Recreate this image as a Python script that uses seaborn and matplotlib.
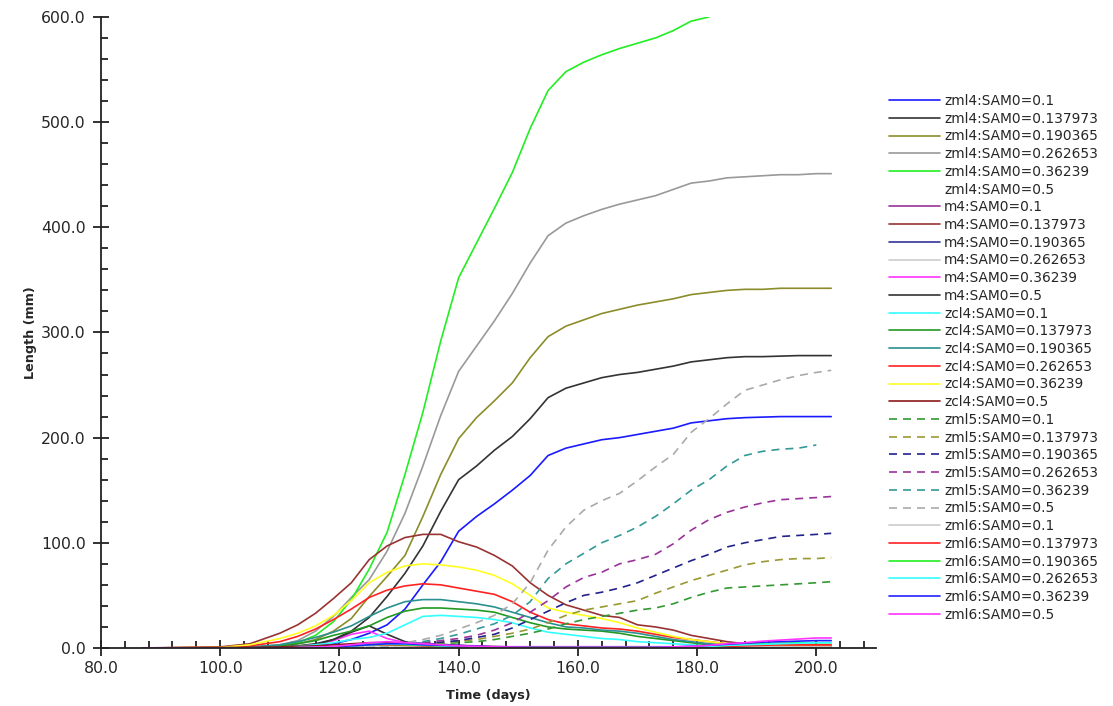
import numpy as np
import seaborn as sns
import matplotlib.pyplot as plt
from matplotlib.ticker import MultipleLocator, FormatStrFormatter

nan = np.nan

# time grid (days)
days = [87, 100, 105, 110, 113, 116, 119, 122, 125, 128, 131, 134, 137, 140, 143, 146, 149, 152, 155,
        158, 161, 164, 167, 170, 173, 176, 179, 182, 185, 188, 191, 194, 197, 200, 202.5]

# zml4
zml4_0100 = [0, 0, 0, 0.5, 1, 2, 4, 8, 14, 22, 37, 60, 82, 111, 125, 137, 150, 164, 183,
             190, 194, 198, 200, 203, 206, 209, 214, 216, 218, 219, 219.5, 220, 220, 220, 220]
zml4_0138 = [0, 0, 0.5, 1, 2, 4, 8, 16, 29, 49, 71, 97, 130, 160, 173, 188, 201, 218, 238,
             247, 252, 257, 260, 262, 265, 268, 272, 274, 276, 277, 277, 277.5, 278, 278, 278]
zml4_0190 = [0, 0, 0.5, 2, 4, 8, 16, 28, 49, 68, 88, 125, 165, 199, 219, 235, 252, 276, 296,
             306, 312, 318, 322, 326, 329, 332, 336, 338, 340, 341, 341, 342, 342, 342, 342]
zml4_0263 = [0, 0, 0.5, 3, 7, 16, 30, 48, 65, 92, 128, 173, 221, 263, 287, 311, 337, 366, 392,
             404, 411, 417, 422, 426, 430, 436, 442, 444, 447, 448, 449, 450, 450, 451, 451]
zml4_0362 = [0, 0, 0.5, 2, 5, 12, 25, 46, 75, 110, 165, 224, 292, 352, 385, 418, 452, 494, 530,
             548, 557, 564, 570, 575, 580, 587, 596, 600, nan, nan, nan, nan, nan, nan, nan]
zml4_0500 = [nan] * len(days)

# m4
m4_0100 = [0, 0, 0, 0, 0.2, 0.5, 1, 2, 3, 4, 4, 3.5, 3, 2.5, 2, 1.5, 1, 1, 0.8,
           0.6, 0.5, 0.5, 0.5, 0.5, 0.5, 0.5, 0.5, 0.5, 0.5, 0.5, 0.5, 0.5, 0.5, 0.5, 0.5]
m4_0138 = [0, 1, 4, 14, 22, 33, 47, 62, 84, 97, 105, 108, 108, 101, 96, 88, 78, 62, 50,
           41, 36, 31, 29, 22, 20, 17, 12, 9, 6, 4, 3, 2.5, 2, 2, 2]
m4_0190 = [0, 0, 0, 0, 0.3, 0.8, 1.5, 2.5, 4, 5, 5, 4.5, 3.5, 2.5, 1.5, 1, 0.8, 0.5, 0.5,
           0.5, 0.5, 0.5, 0.5, 0.5, 0.5, 0.5, 0.5, 0.5, 0.5, 0.5, 0.5, 0.5, 0.5, 0.5, 0.5]
m4_0263 = [0, 0, 0, 0, 0.5, 1, 2, 3, 4, 4, 3, 2, 1.5, 1, 0.8, 0.5, 0.5, 0.5, 0.5,
           0.5, 0.5, 0.5, 0.5, 0.5, 0.5, 0.5, 0.5, 0.5, 0.5, 0.5, 0.5, 0.5, 0.5, 0.5, 0.5]
m4_0362 = [0, 0, 0, 0.5, 1.5, 3, 7, 13, 16, 9, 5, 2, 1.5, 1.2, 1.2, 1.2, 1.2, 1.2, 1.2,
           1.2, 1.2, 1.2, 1.2, 1.2, 1.2, 1.2, 1.2, 1.2, 1.2, 1.2, 1.2, 1.2, 1.2, 1.2, 1.2]
m4_0500 = [0, 0, 0, 0.5, 1.5, 3, 8, 15, 21, 13, 6, 2.5, 1, 0.5, 0.5, 0.5, 0.5, 0.5, 0.5,
           0.5, 0.5, 0.5, 0.5, 0.5, 0.5, 0.5, 0.5, 0.5, 0.5, 0.5, 0.5, 0.5, 0.5, 0.5, 0.5]

# zcl4
zcl4_0100 = [0, 0, 0, 0.5, 1.5, 3, 5, 8, 10, 14, 22, 30, 31, 30, 29, 27, 24, 19, 15,
             13, 11, 9, 8, 6, 5, 4, 3, 2, 1.5, 1, 1, 1, 1, 1, 1]
zcl4_0138 = [0, 0, 0.5, 2, 4, 7, 12, 16, 21, 29, 35, 38, 38, 37, 36, 34, 29, 24, 20,
             18, 17, 16, 14, 11, 9, 7, 5, 3, 2, 1.5, 1, 1, 1, 1, 1]
zcl4_0190 = [0, 0, 1, 3, 6, 10, 15, 21, 30, 38, 44, 46, 46, 44, 42, 39, 34, 29, 24,
             20, 19, 17, 16, 14, 11, 8, 6, 4, 3, 2, 1.5, 1, 1, 1, 1]
zcl4_0263 = [0, 0.5, 2, 6, 11, 18, 27, 37, 48, 55, 59, 61, 60, 57, 54, 51, 44, 34, 27,
             23, 21, 19, 18, 16, 13, 10, 8, 6, 4, 3, 2, 1.5, 1.5, 1.5, 1.5]
zcl4_0362 = [0, 0.5, 3, 9, 14, 21, 31, 45, 62, 72, 78, 80, 79, 77, 74, 69, 61, 50, 38,
             34, 31, 28, 24, 19, 15, 11, 8, 6, 4, 3, 2, 1.5, 1.5, 1.5, 1.5]
zcl4_0500 = [0, 0.5, 0.5, 1, 1.5, 2, 3, 4, 5, 5, 4, 3, 2, 1.5, 1, 1, 1, 1, 1,
             1, 1, 1, 1, 1, 1, 1, 1, 1, 1, 1, 1, 1, 1, 1, 1]

# zml5 (dashed)
zml5_0100 = [0, 0, 0, 0, 0, 0, 0, 0, 0.5, 1, 2, 3, 4, 5, 6, 8, 11, 14, 18,
             23, 27, 30, 33, 36, 38, 42, 48, 53, 57, 58, 59, 60, 61, 62, 63]
zml5_0138 = [0, 0, 0, 0, 0, 0, 0, 0, 0.5, 1, 2, 3.5, 5, 6.5, 8, 11, 14, 18, 24,
             31, 36, 39, 42, 45, 52, 58, 64, 69, 74, 79, 82, 84, 85, 85, 86]
zml5_0190 = [0, 0, 0, 0, 0, 0, 0, 0, 0.5, 1, 2.5, 4, 5.5, 7, 10, 13, 19, 27, 35,
             43, 50, 53, 57, 62, 69, 76, 83, 89, 96, 100, 103, 106, 107, 108, 109]
zml5_0263 = [0, 0, 0, 0, 0, 0, 0, 0, 0.5, 1.5, 3, 5, 7, 9, 12, 17, 24, 34, 45,
             58, 67, 72, 80, 84, 89, 99, 112, 122, 129, 134, 138, 141, 142, 143, 144]
zml5_0362 = [0, 0, 0, 0, 0, 0, 0, 0, 1, 2, 4, 6, 9, 13, 18, 23, 31, 44, 66,
             80, 90, 100, 107, 115, 125, 137, 150, 160, 173, 183, 187, 189, 190, 193, nan]
zml5_0500 = [0, 0, 0, 0, 0, 0, 0, 0, 1, 3, 5, 8, 12, 18, 24, 31, 42, 62, 93,
             115, 131, 140, 147, 159, 172, 184, 205, 218, 232, 245, 250, 255, 259, 262, 264]

# zml6
zml6_0100 = [0, 0, 0, 0, 0.2, 0.5, 1, 1.5, 2, 2, 1.5, 1, 0.8, 0.5, 0.5, 0.5, 0.5, 0.5, 0.5,
             0.5, 0.5, 0.5, 0.5, 0.5, 0.5, 0.5, 0.5, 0.8, 1, 1, 1, 1, 1, 1, 1]
zml6_0138 = [0, 0, 0, 0, 0.2, 0.5, 1, 2, 3, 3, 2.5, 2, 1.5, 1, 0.8, 0.5, 0.5, 0.5, 0.5,
             0.5, 0.5, 0.5, 0.5, 0.5, 0.5, 0.5, 0.5, 1, 1.5, 2, 2.5, 3, 3, 3, 3]
zml6_0190 = [0, 0, 0, 0, 0.2, 0.5, 1, 2, 3, 3.5, 3, 2.5, 2, 1.5, 1, 0.8, 0.5, 0.5, 0.5,
             0.5, 0.5, 0.5, 0.5, 0.5, 0.5, 0.8, 1, 1.5, 2.5, 3.5, 4, 4.5, 5, 5, 5]
zml6_0263 = [0, 0, 0, 0, 0.2, 0.5, 1, 2, 3, 4, 3.5, 3, 2, 1.5, 1, 0.8, 0.5, 0.5, 0.5,
             0.5, 0.5, 0.5, 0.5, 0.5, 0.5, 0.8, 1, 1.5, 2.5, 3, 3.5, 4, 4.5, 5, 5]
zml6_0362 = [0, 0, 0, 0, 0.2, 0.5, 1, 2, 3, 4, 4, 3, 2.5, 2, 1.5, 1, 0.8, 0.5, 0.5,
             0.5, 0.5, 0.5, 0.5, 0.5, 0.5, 1, 1.5, 2.5, 3.5, 4.5, 5.5, 6, 6.5, 7, 7]
zml6_0500 = [0, 0, 0, 0, 0.3, 0.8, 1.5, 3, 5, 6, 5, 4, 3, 2, 1.5, 1, 0.8, 0.5, 0.5,
             0.5, 0.5, 0.5, 0.5, 0.5, 0.5, 1, 1.5, 2.5, 4, 5, 6.5, 7.5, 8.5, 9.5, 9.5]

sam_values = ["0.1", "0.137973", "0.190365", "0.262653", "0.36239", "0.5"]
models = ["zml4", "m4", "zcl4", "zml5", "zml6"]
series = {
    "zml4": [zml4_0100, zml4_0138, zml4_0190, zml4_0263, zml4_0362, zml4_0500],
    "m4": [m4_0100, m4_0138, m4_0190, m4_0263, m4_0362, m4_0500],
    "zcl4": [zcl4_0100, zcl4_0138, zcl4_0190, zcl4_0263, zcl4_0362, zcl4_0500],
    "zml5": [zml5_0100, zml5_0138, zml5_0190, zml5_0263, zml5_0362, zml5_0500],
    "zml6": [zml6_0100, zml6_0138, zml6_0190, zml6_0263, zml6_0362, zml6_0500],
}
colors = {
    "zml4": ["#1a1aff", "#333333", "#8c8c2a", "#999999", "#22ee22", "white"],
    "m4": ["#993399", "#993333", "#333399", "#cccccc", "#ff33ff", "#333333"],
    "zcl4": ["#33ffff", "#229922", "#2a9090", "#ff2222", "#ffff22", "#8b1a1a"],
    "zml5": ["#339933", "#999933", "#22228c", "#993399", "#339999", "#aaaaaa"],
    "zml6": ["#cccccc", "#ff2222", "#22ee22", "#33ffff", "#2222ff", "#ff33ff"],
}

sns.set_style("ticks")
plt.rcParams['font.family'] = ['DejaVu Sans']

fig = plt.figure(figsize=(11.13, 7.06), dpi=100)
ax = fig.add_axes([0.0907, 0.0822, 0.6963, 0.8938])

handles = []
labels = []
for m in models:
    for i, s in enumerate(sam_values):
        label = f"{m}:SAM0={s}"
        vals = np.array(series[m][i], dtype=float)
        if np.all(np.isnan(vals)):
            # no data, legend entry only
            h, = ax.plot([], [], color=colors[m][i], lw=1.2, label=label)
        else:
            sns.lineplot(x=days, y=vals, color=colors[m][i], linewidth=1.2, ax=ax,
                         label=label, sort=False)
            h = ax.lines[-1]
            if m == "zml5":
                h.set_dashes((4.8, 3.6))
        handles.append(h)
        labels.append(label)

ax.set_xlim(80, 210)
ax.set_ylim(0, 600)
ax.xaxis.set_major_locator(MultipleLocator(20))
ax.xaxis.set_minor_locator(MultipleLocator(4))
ax.yaxis.set_major_locator(MultipleLocator(100))
ax.yaxis.set_minor_locator(MultipleLocator(20))
ax.xaxis.set_major_formatter(FormatStrFormatter('%.1f'))
ax.yaxis.set_major_formatter(FormatStrFormatter('%.1f'))
ax.tick_params(which='major', direction='inout', length=11, width=1.3, labelsize=11.3,
               color='#222222', pad=4)
ax.tick_params(axis='y', which='major', pad=5.5)
ax.tick_params(which='minor', direction='in', length=5, width=1.3, color='#222222')
sns.despine(ax=ax)
for sp in ['left', 'bottom']:
    ax.spines[sp].set_linewidth(1.3)
    ax.spines[sp].set_color('#222222')

ax.set_xlabel("Time (days)", fontsize=9.2, fontweight='bold', labelpad=9)
ax.set_ylabel("Length (mm)", fontsize=9.2, fontweight='bold', labelpad=3)

ax.legend(handles, labels, loc='upper left', bbox_to_anchor=(889 / 1113, 1 - 94 / 706),
          bbox_transform=fig.transFigure, frameon=False, fontsize=9.9,
          handlelength=3.7, handletextpad=0.3, labelspacing=0.27, borderpad=0,
          borderaxespad=0)

plt.savefig("out.png", dpi=100)
